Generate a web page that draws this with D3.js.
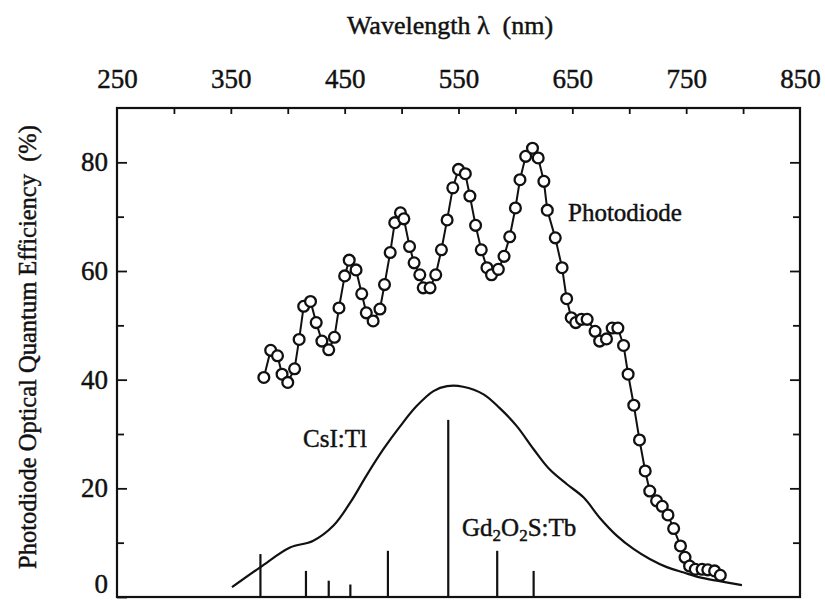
<!DOCTYPE html>
<html>
<head>
<meta charset="utf-8">
<script src="https://cdn.jsdelivr.net/npm/d3@7"></script>
<style>
  html, body { margin: 0; padding: 0; background: #fff; }
  svg { display: block; }
  text { font-family: "Liberation Serif", "Times New Roman", serif; fill: #111; stroke: #111; stroke-width: 0.45px; }
</style>
</head>
<body>
<svg id="chart" width="825" height="602"></svg>
<script>
// Photodiode optical quantum efficiency (%) vs wavelength (nm)
const pdWavelength = [379, 385, 391, 395, 400, 406, 410, 414, 420, 425, 430, 436, 441, 445, 450, 454, 460,
  465, 469, 475, 481, 485, 490, 494, 499, 502, 507, 511, 516, 519, 525, 530, 535, 540, 545, 550, 556,
  560, 565, 570, 575, 579, 585, 590, 595, 600, 604, 609, 615, 620, 625, 628, 635, 641, 645, 649, 653,
  658, 663, 670, 674, 680, 685, 690, 695, 699, 704, 709, 714, 718, 724, 729, 734, 739, 745, 749, 753,
  758, 764, 769, 775, 780];
const pdEfficiency = [40.4, 45.4, 44.4, 41.0, 39.5, 42.0, 47.4, 53.5, 54.4, 50.5, 47.1, 45.5, 47.8, 53.2, 59.1, 62.0, 60.2,
  55.8, 52.3, 50.8, 53.0, 57.5, 63.4, 68.9, 70.7, 69.6, 64.5, 61.5, 59.3, 56.9, 56.9, 59.3, 63.9, 69.4, 75.3, 78.7, 77.9,
  73.8, 68.4, 63.9, 60.6, 59.3, 60.3, 62.7, 66.3, 71.6, 76.8, 81.1, 82.6, 80.8, 76.5, 71.2, 66.1, 60.6, 54.9, 51.4, 50.5,
  51.1, 51.1, 48.9, 47.1, 47.5, 49.5, 49.5, 46.3, 41.0, 35.3, 28.9, 23.2, 19.5, 17.7, 16.7, 15.1, 12.6, 9.4, 7.3, 5.7,
  5.1, 5.1, 5.0, 4.8, 4.0];

// CsI:Tl emission spectrum (relative, same vertical scale)
const csiWavelength = [351, 376, 402, 422, 440, 455, 469, 484, 499, 513, 528, 540, 554, 572, 586, 601, 616,
  630, 645, 660, 674, 689, 704, 718, 733, 748, 762, 777, 799];
const csiEmission = [1.8, 5.5, 9.1, 10.3, 13.1, 17.4, 22.3, 27.2, 31.5, 35.1, 37.9, 38.8, 38.7, 37.3, 34.8, 31.5, 27.2,
  23.5, 20.8, 18.3, 14.6, 11.3, 8.8, 7.0, 5.5, 4.5, 3.6, 3.0, 2.2];

// Gd2O2S:Tb emission lines
const gosWavelength = [376, 416, 436, 455, 488, 541, 584, 616];
const gosEmission = [7.9, 4.8, 3.0, 2.3, 8.5, 32.6, 8.5, 4.8];

// Axis ticks
const topLabelTicks = [250, 350, 450, 550, 650, 750, 850];
const topMarkTicks = [300, 350, 400, 450, 500, 550, 600, 650, 700, 750, 800];
const yMajorTicks = [0, 20, 40, 60, 80];
const yMinorTicks = [10, 30, 50, 70];

const svg = d3.select("#chart");
const plotLeft = 117, plotRight = 800, plotTop = 108, plotBottom = 597;

const x = d3.scaleLinear().domain([250, 850]).range([plotLeft, plotRight]);
const y = d3.scaleLinear().domain([0, 90]).range([plotBottom, plotTop]);

// frame
svg.append("rect")
  .attr("x", plotLeft).attr("y", plotTop)
  .attr("width", plotRight - plotLeft).attr("height", plotBottom - plotTop)
  .attr("fill", "none").attr("stroke", "#111").attr("stroke-width", 2.2);

function styleAxis(g) {
  g.select(".domain").remove();
  g.selectAll(".tick line").attr("stroke", "#111").attr("stroke-width", 1.8);
  g.selectAll(".tick text").style("font-family", "Liberation Serif, serif").attr("fill", "#111");
}

// top axis: inward tick marks
svg.append("g").attr("transform", `translate(0,${plotTop})`)
  .call(d3.axisTop(x).tickValues(topMarkTicks).tickSize(-6).tickFormat(""))
  .call(styleAxis);

// top axis: labels
svg.append("g").attr("transform", `translate(0,${plotTop})`)
  .call(d3.axisTop(x).tickValues(topLabelTicks).tickSize(0).tickPadding(20).tickFormat(d3.format("d")))
  .call(styleAxis)
  .call(g => g.selectAll(".tick text").style("font-size", "27px"));

// left axis
svg.append("g").attr("transform", `translate(${plotLeft},0)`)
  .call(d3.axisLeft(y).tickValues(yMajorTicks).tickSize(-10).tickPadding(9).tickFormat(d3.format("d")))
  .call(styleAxis)
  .call(g => g.selectAll(".tick text").style("font-size", "27px"))
  // the zero label sits just above the lower frame edge
  .call(g => g.selectAll(".tick").filter(d => d === 0).select("text").attr("dy", "-0.17em"));
svg.append("g").attr("transform", `translate(${plotLeft},0)`)
  .call(d3.axisLeft(y).tickValues(yMinorTicks).tickSize(-7).tickFormat(""))
  .call(styleAxis);

// right axis
svg.append("g").attr("transform", `translate(${plotRight},0)`)
  .call(d3.axisRight(y).tickValues(yMajorTicks.filter(v => v > 0)).tickSize(-10).tickFormat(""))
  .call(styleAxis);
svg.append("g").attr("transform", `translate(${plotRight},0)`)
  .call(d3.axisRight(y).tickValues(yMinorTicks).tickSize(-7).tickFormat(""))
  .call(styleAxis);

// axis titles
svg.append("text")
  .attr("x", 450).attr("y", 34)
  .attr("text-anchor", "middle")
  .style("font-size", "26px")
  .text("Wavelength λ\u00a0\u00a0(nm)");

svg.append("text")
  .attr("transform", `translate(36,${347}) rotate(-90)`)
  .attr("text-anchor", "middle")
  .style("font-size", "24.5px")
  .text("Photodiode Optical Quantum Efficiency\u00a0\u00a0(%)");

// Gd2O2S:Tb emission lines
svg.append("g").selectAll("line")
  .data(gosWavelength.map((w, i) => [w, gosEmission[i]]))
  .join("line")
  .attr("x1", d => x(d[0])).attr("x2", d => x(d[0]))
  .attr("y1", y(0)).attr("y2", d => y(d[1]))
  .attr("stroke", "#111").attr("stroke-width", 2.2);

// CsI:Tl emission curve
const csiData = csiWavelength.map((w, i) => [w, csiEmission[i]]);
svg.append("path")
  .datum(csiData)
  .attr("fill", "none").attr("stroke", "#111").attr("stroke-width", 2.2)
  .attr("d", d3.line().x(d => x(d[0])).y(d => y(d[1])).curve(d3.curveCatmullRom.alpha(0.5)));

// photodiode efficiency
const pdData = pdWavelength.map((w, i) => [w, pdEfficiency[i]]);
svg.append("path")
  .datum(pdData)
  .attr("fill", "none").attr("stroke", "#111").attr("stroke-width", 2)
  .attr("d", d3.line().x(d => x(d[0])).y(d => y(d[1])));

svg.append("g").selectAll("circle")
  .data(pdData)
  .join("circle")
  .attr("cx", d => x(d[0])).attr("cy", d => y(d[1]))
  .attr("r", 5.4)
  .attr("fill", "#fff").attr("stroke", "#111").attr("stroke-width", 2.3);

// series labels
svg.append("text").attr("x", 568).attr("y", 221)
  .style("font-size", "25px").text("Photodiode");

svg.append("text").attr("x", 303).attr("y", 447)
  .style("font-size", "25px").text("CsI:Tl");

const gos = svg.append("text").attr("x", 462).attr("y", 536).style("font-size", "25px");
gos.append("tspan").text("Gd");
gos.append("tspan").attr("dy", 5).style("font-size", "17px").text("2");
gos.append("tspan").attr("dy", -5).text("O");
gos.append("tspan").attr("dy", 5).style("font-size", "17px").text("2");
gos.append("tspan").attr("dy", -5).text("S:Tb");
</script>
</body>
</html>
